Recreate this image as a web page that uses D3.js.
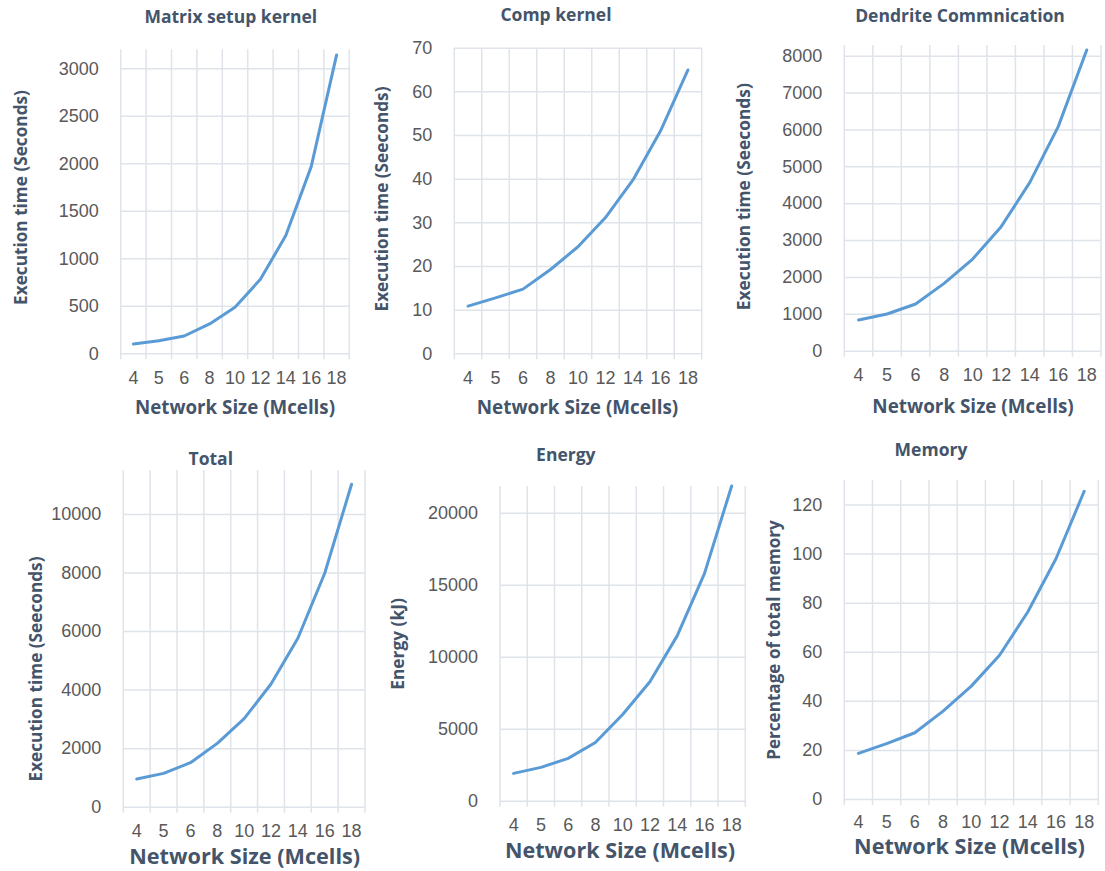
<!DOCTYPE html>
<html>
<head>
<meta charset="utf-8">
<script src="https://cdn.jsdelivr.net/npm/d3@7"></script>
<style>
  html, body { margin: 0; padding: 0; background: #ffffff; }
  svg { display: block; font-family: "Open Sans", Lato, sans-serif; }
  .tick-label { fill: #595959; font-size: 18px; }
  .title { fill: #44546a; font-weight: bold; font-size: 17.5px; }
  .axis-title { fill: #44546a; font-weight: bold; }
</style>
</head>
<body>
<svg id="chart" width="1105" height="871"></svg>
<script>
// Network sizes (millions of cells) on the shared category axis
const sizes = ["4", "5", "6", "8", "10", "12", "14", "16", "18"];

// Measured series, one per panel
const matrixSetup  = [98, 133, 182, 309, 484, 779, 1239, 1965, 3141];
const compKernel   = [10.8, 12.7, 14.7, 19.2, 24.4, 31.1, 39.7, 50.9, 64.9];
const dendriteComm = [832, 995, 1266, 1826, 2486, 3363, 4557, 6076, 8155];
const totalTime    = [945, 1139, 1503, 2164, 3007, 4191, 5752, 7973, 11014];
const energyKJ     = [1896, 2312, 2936, 4046, 5988, 8254, 11445, 15769, 21850];
const memoryPct    = [18.6, 22.6, 27, 35.8, 46, 58.6, 76.2, 97.9, 125.4];

// Value-axis tick labels per panel
const ticksMatrix   = [0, 500, 1000, 1500, 2000, 2500, 3000];
const ticksComp     = [0, 10, 20, 30, 40, 50, 60, 70];
const ticksDendrite = [0, 1000, 2000, 3000, 4000, 5000, 6000, 7000, 8000];
const ticksTotal    = [0, 2000, 4000, 6000, 8000, 10000];
const ticksEnergy   = [0, 5000, 10000, 15000, 20000];
const ticksMemory   = [0, 20, 40, 60, 80, 100, 120];

// Axis maxima
const maxima = [3200, 70, 8290, 11500, 21850, 130];

const titles = ["Matrix setup kernel", "Comp kernel", "Dendrite Commnication", "Total", "Energy", "Memory"];
const yTitles = ["Execution time (Seconds)", "Execution time (Seeconds)", "Execution time (Seeconds)",
                 "Execution time (Seeconds)", "Energy (kJ)", "Percentage of total memory"];
const xTitle = "Network Size (Mcells)";

const series = [matrixSetup, compKernel, dendriteComm, totalTime, energyKJ, memoryPct];
const tickSets = [ticksMatrix, ticksComp, ticksDendrite, ticksTotal, ticksEnergy, ticksMemory];

// Panel geometry: plot box, title anchor, axis-title anchors [x, y, rendered width]
const layout = [
  { l: 120.7, r: 349.3, t: 49.3, b: 353.3, title: [230.8, 23], xt: [235, 414, 200], yt: [20, 197.5, 215], xl: 27 },
  { l: 454.3, r: 701.7, t: 47.7, b: 353.3, title: [556, 20.7], xt: [577.5, 414, 201.7], yt: [381.7, 199, 225], xl: 27 },
  { l: 844.3, r: 1101,  t: 45,   b: 350.7, title: [960, 21.7], xt: [973, 413, 201.3], yt: [743, 196.7, 227], xl: 26.5 },
  { l: 123.3, r: 365,   t: 470,  b: 806.7, title: [210.8, 465], xt: [244.7, 864.3, 231], yt: [35, 669, 225], xl: 26.5 },
  { l: 500,   r: 745.3, t: 486,  b: 800.7, title: [565.8, 460.7], xt: [620, 858.3, 230], yt: [396.7, 644, 91.7], xl: 26.5 },
  { l: 844.3, r: 1098.3, t: 480, b: 799,  title: [931, 455.7], xt: [969.5, 854.3, 231], yt: [773.3, 640, 240], xl: 25.7 }
];

const svg = d3.select("#chart");
const gridColor = "#dfe3ea";
const lineColor = "#5b9bd5";

// size a label so that it spans the given width
function fitText(sel, width) {
  sel.attr("font-size", 16);
  const w = sel.node().getComputedTextLength();
  sel.attr("font-size", (16 * width / w).toFixed(2));
}

series.forEach((values, i) => {
  const L = layout[i];
  const g = svg.append("g");

  const x = d3.scaleBand().domain(sizes).range([L.l, L.r]).padding(0);
  const y = d3.scaleLinear().domain([0, maxima[i]]).range([L.b, L.t]);

  // horizontal gridlines with value labels
  const yAxis = d3.axisLeft(y).tickValues(tickSets[i]).tickSize(-(L.r - L.l)).tickPadding(22).tickFormat(d3.format("d"));
  const ya = g.append("g").attr("transform", `translate(${L.l},0)`).call(yAxis);
  ya.select(".domain").remove();
  ya.selectAll(".tick line").attr("stroke", gridColor).attr("stroke-width", 1.5);
  ya.selectAll(".tick text").attr("class", "tick-label").attr("font-family", null).attr("font-size", null).attr("fill", null);

  // vertical category boundaries, extended slightly below the base as tick marks
  const bounds = sizes.map(s => x(s)).concat([x.range()[1]]);
  g.append("g").selectAll("line").data(bounds).join("line")
    .attr("x1", d => d).attr("x2", d => d)
    .attr("y1", L.t).attr("y2", L.b + 6)
    .attr("stroke", gridColor).attr("stroke-width", 1.5);

  // category labels
  const xAxis = d3.axisBottom(x).tickSize(0).tickPadding(L.xl - 9);
  const xa = g.append("g").attr("transform", `translate(0,${L.b})`).call(xAxis);
  xa.select(".domain").remove();
  xa.selectAll(".tick text").attr("class", "tick-label").attr("font-family", null).attr("font-size", null).attr("fill", null);

  // data line
  const line = d3.line().x((d, k) => x(sizes[k]) + x.bandwidth() / 2).y(d => y(d));
  g.append("path").datum(values).attr("d", line)
    .attr("fill", "none").attr("stroke", lineColor).attr("stroke-width", 3)
    .attr("stroke-linejoin", "round").attr("stroke-linecap", "round");

  // titles
  g.append("text").attr("class", "title").attr("x", L.title[0]).attr("y", L.title[1])
    .attr("text-anchor", "middle").text(titles[i]);
  g.append("text").attr("class", "axis-title").attr("x", L.xt[0]).attr("y", L.xt[1])
    .attr("text-anchor", "middle").text(xTitle).call(fitText, L.xt[2]);
  g.append("text").attr("class", "axis-title")
    .attr("transform", `translate(${L.yt[0]},${L.yt[1]}) rotate(-90)`)
    .attr("text-anchor", "middle").attr("dominant-baseline", "central")
    .text(yTitles[i]).call(fitText, L.yt[2]);
});
</script>
</body>
</html>
